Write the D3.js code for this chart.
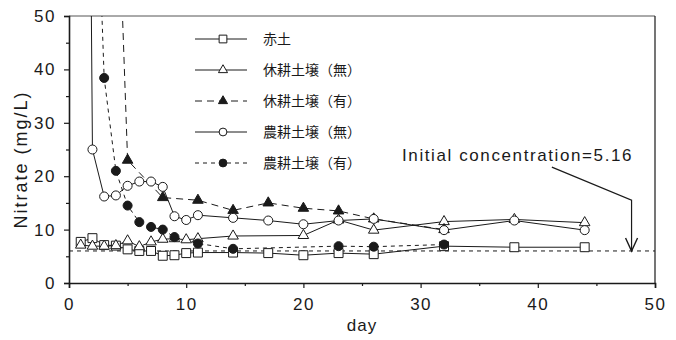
<!DOCTYPE html>
<html>
<head>
<meta charset="utf-8">
<script src="https://cdn.jsdelivr.net/npm/d3@7"></script>
<style>
  body { margin: 0; background: #fff; }
  svg { display: block; font-family: "Liberation Sans", Arial, sans-serif; }
</style>
</head>
<body>
<svg width="676" height="340"></svg>
<script>
// legend labels, in legend order
const seriesNames = ["赤土", "休耕土壌（無）", "休耕土壌（有）", "農耕土壌（無）", "農耕土壌（有）"];

// values (day, nitrate mg/L)
const akatsuchiDays = [1, 2, 3, 4, 5, 6, 7, 8, 9, 10, 11, 14, 17, 20, 23, 26, 32, 38, 44];
const akatsuchiValues = [7.7, 8.4, 7.1, 7.0, 6.3, 6.0, 6.0, 5.1, 5.2, 5.6, 5.7, 5.7, 5.6, 5.2, 5.6, 5.4, 6.9, 6.7, 6.7];

const fallowNoneDays = [1, 2, 3, 4, 5, 6, 7, 8, 9, 10, 11, 14, 20, 23, 26, 32, 38, 44];
const fallowNoneValues = [7.1, 6.9, 6.9, 7.0, 7.9, 6.8, 7.7, 8.2, 8.3, 8.1, 8.3, 8.8, 8.9, 11.8, 9.9, 11.5, 11.9, 11.3];

const fallowWithDays = [4, 5, 8, 11, 14, 17, 20, 23, 26, 32];
const fallowWithValues = [85, 23, 16, 15.5, 13.6, 15, 14, 13.5, 12, 10];

const farmNoneDays = [1, 2, 3, 4, 5, 6, 7, 8, 9, 10, 11, 14, 17, 20, 23, 26, 32, 38, 44];
const farmNoneValues = [300, 25, 16.2, 16.4, 18.2, 19, 19, 18, 12.5, 11.8, 12.7, 12.2, 11.7, 11, 11.7, 12, 9.9, 11.7, 9.9];

const farmWithDays = [2, 3, 4, 5, 6, 7, 8, 9, 11, 14, 23, 26, 32];
const farmWithValues = [100, 38.4, 21, 14.5, 11.4, 10.5, 10, 8.6, 7.4, 6.4, 6.9, 6.8, 7.2];

const xTicks = [0, 10, 20, 30, 40, 50];
const yTicks = [0, 10, 20, 30, 40, 50];

// the dashed initial level and its label
const refLevel = 6.0;
const refLabel = "Initial concentration=5.16";
const arrowPoints = [[41.2, 21.7], [48, 15.5], [48, refLevel]];

const svg = d3.select("svg");
const margin = {top: 16, right: 21, bottom: 57, left: 69};
const width = +svg.attr("width") - margin.left - margin.right;
const height = +svg.attr("height") - margin.top - margin.bottom;

const x = d3.scaleLinear().domain([0, 50]).range([0, width]);
const y = d3.scaleLinear().domain([0, 50]).range([height, 0]);

const g = svg.append("g")
  .attr("transform", `translate(${margin.left},${margin.top})`);

// clip so the off-scale early points run out of the top
g.append("clipPath").attr("id", "plot")
  .append("rect").attr("width", width).attr("height", height);

const ink = "#1a1a1a";

// series styles: marker shape, fill, dash
const series = [
  {days: akatsuchiDays, values: akatsuchiValues, shape: d3.symbolSquare, size: 80, fill: "#fff", dash: null},
  {days: fallowNoneDays, values: fallowNoneValues, shape: d3.symbolTriangle, size: 48, fill: "#fff", dash: null},
  {days: fallowWithDays, values: fallowWithValues, shape: d3.symbolTriangle, size: 48, fill: ink, dash: "7,5"},
  {days: farmNoneDays, values: farmNoneValues, shape: d3.symbolCircle, size: 64, fill: "#fff", dash: null},
  {days: farmWithDays, values: farmWithValues, shape: d3.symbolCircle, size: 64, fill: ink, dash: "4,4"}
];
series.forEach((s, i) => {
  s.name = seriesNames[i];
  s.points = s.days.map((d, j) => ({day: d, value: s.values[j]}));
});

// frame: top and right edges
g.append("line").attr("x1", 0).attr("x2", width).attr("y1", 0).attr("y2", 0)
  .attr("stroke", "#555").attr("stroke-width", 1);
g.append("line").attr("x1", width).attr("x2", width).attr("y1", 0).attr("y2", height)
  .attr("stroke", ink).attr("stroke-width", 1.2);

// dashed initial concentration line
g.append("line")
  .attr("x1", 0).attr("x2", width)
  .attr("y1", y(refLevel)).attr("y2", y(refLevel))
  .attr("stroke", ink).attr("stroke-width", 1)
  .attr("stroke-dasharray", "4,4");

const plot = g.append("g").attr("clip-path", "url(#plot)");

const line = d3.line().x(d => x(d.day)).y(d => y(d.value));

plot.selectAll(".series-line")
  .data(series)
  .enter().append("path")
    .attr("class", "series-line")
    .attr("d", d => line(d.points))
    .attr("fill", "none")
    .attr("stroke", ink)
    .attr("stroke-width", 1)
    .attr("stroke-dasharray", d => d.dash);

series.forEach(s => {
  plot.selectAll(null)
    .data(s.points)
    .enter().append("path")
      .attr("transform", d => `translate(${x(d.day)},${y(d.value)})`)
      .attr("d", d3.symbol().type(s.shape).size(s.size))
      .attr("fill", s.fill)
      .attr("stroke", ink)
      .attr("stroke-width", 1);
});

// axes
const xAxis = g.append("g")
  .attr("transform", `translate(0,${height})`)
  .call(d3.axisBottom(x).tickValues(xTicks).tickSize(5).tickPadding(10));
g.append("g")
  .attr("transform", `translate(0,${height})`)
  .call(d3.axisBottom(x).tickValues([5, 15, 25, 35, 45]).tickSize(3).tickFormat(""))
  .select(".domain").remove();

const yAxis = g.append("g")
  .call(d3.axisLeft(y).tickValues(yTicks).tickSize(5).tickPadding(8));
g.append("g")
  .call(d3.axisLeft(y).tickValues([5, 15, 25, 35, 45]).tickSize(3).tickFormat(""))
  .select(".domain").remove();

g.selectAll(".domain").attr("stroke", ink).attr("stroke-width", 1.6);
g.selectAll(".tick line").attr("stroke", ink).attr("stroke-width", 1.2);
g.selectAll(".tick text")
  .attr("fill", ink)
  .style("font-size", "17px")
  .style("letter-spacing", "1.5px")
  .style("font-family", "'Liberation Sans', Arial, sans-serif");

// axis titles
g.append("text")
  .attr("x", width / 2)
  .attr("y", height + 48)
  .attr("text-anchor", "middle")
  .attr("fill", ink)
  .style("font-size", "17px")
  .style("letter-spacing", "1px")
  .text("day");

g.append("text")
  .attr("transform", `translate(${27 - margin.left},${height / 2 + 10}) rotate(-90)`)
  .attr("text-anchor", "middle")
  .attr("fill", ink)
  .style("font-size", "18px")
  .style("letter-spacing", "2px")
  .text("Nitrate (mg/L)");

// annotation with arrow to the initial level
g.append("text")
  .attr("x", 402 - margin.left)
  .attr("y", 161 - margin.top)
  .attr("fill", ink)
  .style("font-size", "17px")
  .style("letter-spacing", "1.6px")
  .text(refLabel);

g.append("path")
  .attr("d", d3.line()(arrowPoints.map(p => [x(p[0]), y(p[1])])))
  .attr("fill", "none")
  .attr("stroke", ink)
  .attr("stroke-width", 1.2);
const tipX = x(arrowPoints[2][0]);
const tipY = y(arrowPoints[2][1]);
g.append("path")
  .attr("d", `M${tipX - 6},${tipY - 13}L${tipX},${tipY}L${tipX + 6},${tipY - 13}`)
  .attr("fill", "none")
  .attr("stroke", ink)
  .attr("stroke-width", 1.4);

// legend
const legend = svg.append("g").attr("transform", "translate(195,39)");
const rows = legend.selectAll(".legend-row")
  .data(series)
  .enter().append("g")
    .attr("class", "legend-row")
    .attr("transform", (d, i) => `translate(0,${i * 31})`);

rows.append("line")
  .attr("x1", 0).attr("x2", 52)
  .attr("stroke", ink)
  .attr("stroke-width", 1)
  .attr("stroke-dasharray", d => d.dash);

rows.append("path")
  .attr("transform", "translate(28,0)")
  .attr("d", d => d3.symbol().type(d.shape).size(d.size * 0.75)())
  .attr("fill", d => d.fill)
  .attr("stroke", ink);

rows.append("text")
  .attr("x", 68)
  .attr("dy", "0.35em")
  .attr("fill", ink)
  .style("font-family", "'Noto Sans CJK JP', sans-serif")
  .style("font-size", "14px")
  .text(d => d.name);
</script>
</body>
</html>
